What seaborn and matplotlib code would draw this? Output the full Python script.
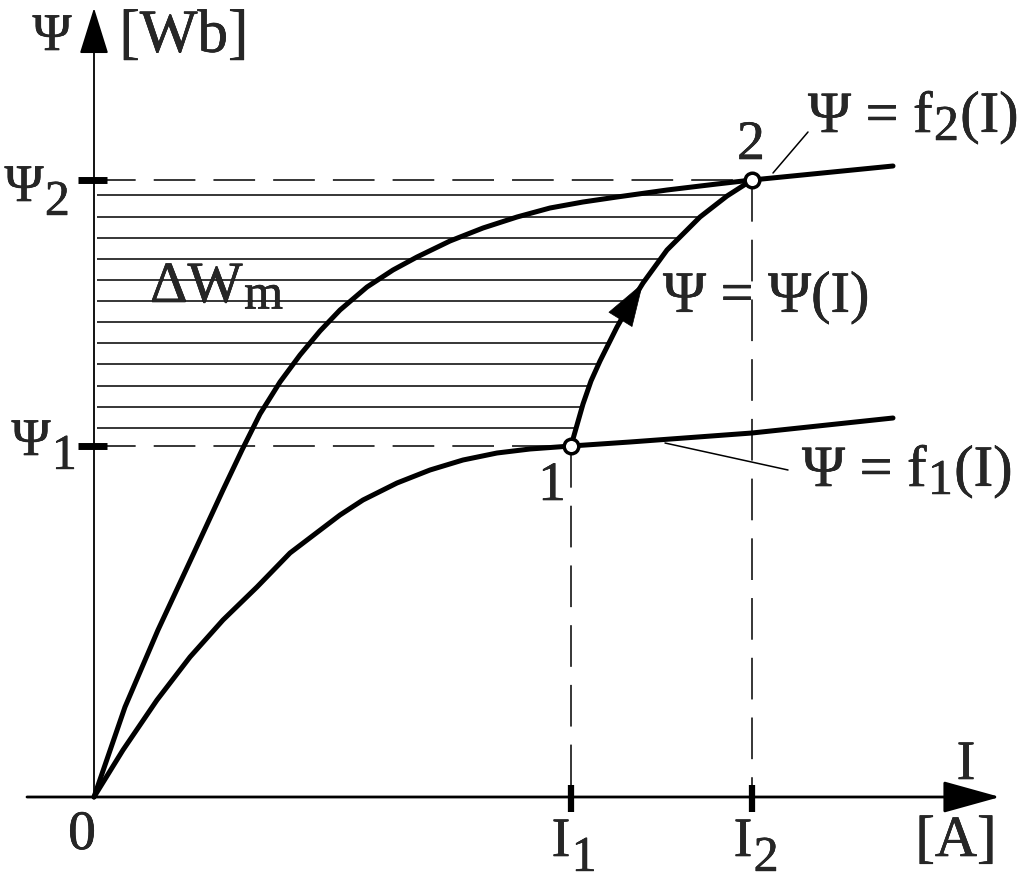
import numpy as np
import matplotlib
matplotlib.use("Agg")
import matplotlib.pyplot as plt
import matplotlib.patheffects as pe
import seaborn as sns

# magnetisation curves (x = current I, y = flux linkage Psi)
f2_x = [0, 0.31, 0.64, 0.98, 1.29, 1.48, 1.66, 1.86, 2.06, 2.26, 2.46, 2.73, 2.99, 3.23,
        3.56, 3.89, 4.23, 4.56, 4.89, 5.23, 5.73, 6.23, 6.58, 7.99]
f2_y = [0, 0.90, 1.67, 2.40, 3.07, 3.47, 3.83, 4.15, 4.42, 4.66, 4.87, 5.10, 5.27, 5.40,
        5.56, 5.69, 5.80, 5.89, 5.95, 6.00, 6.07, 6.13, 6.17, 6.31]
f1_x = [0, 0.29, 0.63, 0.96, 1.29, 1.63, 1.96, 2.46, 2.69, 3.03, 3.36, 3.69, 4.03, 4.36, 4.77, 5.36, 6.58, 7.99]
f1_y = [0, 0.47, 0.97, 1.40, 1.77, 2.10, 2.44, 2.82, 2.97, 3.14, 3.27, 3.37, 3.44, 3.48, 3.51, 3.55, 3.64, 3.79]
psi_x = [4.77, 4.83, 4.89, 4.97, 5.06, 5.23, 5.36, 5.49, 5.73, 6.06, 6.33, 6.58]
psi_y = [3.51, 3.72, 3.93, 4.16, 4.36, 4.70, 4.93, 5.14, 5.47, 5.80, 6.01, 6.17]

I1, I2 = 4.77, 6.58
psi1, psi2 = 3.51, 6.17
hatch_levels = [6.02, 5.80, 5.59, 5.38, 5.17, 4.96, 4.75, 4.54, 4.33, 4.11, 3.90, 3.69]

sns.set_style("white")
plt.rcParams["font.family"] = ["Liberation Serif", "DejaVu Serif"]
plt.rcParams["lines.scale_dashes"] = False

fig = plt.figure(figsize=(10.24, 8.89), dpi=100)
ax = fig.add_axes([0, 0, 1, 1])
ax.set_xlim(-0.94, 9.30)
ax.set_ylim(-0.92, 7.97)
ax.set_axis_off()

# hatched area Delta W_m
hatch_end = np.interp(hatch_levels, psi_y, psi_x)
ax.hlines(hatch_levels, 0.03, hatch_end, color="black", lw=1.1)

# dashed guides
dash = (0, (30, 13))
ax.plot([0, I2], [psi2, psi2], color="black", lw=1.1, linestyle=dash)
ax.plot([0, I1], [psi1, psi1], color="black", lw=1.1, linestyle=dash)
ax.plot([I1, I1], [psi1, 0], color="black", lw=1.1, linestyle=dash)
ax.plot([I2, I2], [psi2, 0], color="black", lw=1.1, linestyle=dash)

# axes with arrows
ax.annotate("", xy=(0, 7.89), xytext=(0, 0),
            arrowprops=dict(arrowstyle="-|>,head_length=0.4,head_width=0.125", mutation_scale=74,
                            lw=1.3, color="black", shrinkA=0, shrinkB=0))
ax.annotate("", xy=(9.06, 0), xytext=(-0.67, 0),
            arrowprops=dict(arrowstyle="-|>,head_length=0.45,head_width=0.125", mutation_scale=80,
                            lw=2.0, color="black", shrinkA=0, shrinkB=0))
ax.hlines([psi1, psi2], -0.16, 0.13, color="black", lw=5)
ax.vlines([I1, I2], -0.15, 0.12, color="black", lw=4.5)

# curves
for cx, cy in [(f2_x, f2_y), (f1_x, f1_y), (psi_x, psi_y)]:
    sns.lineplot(x=cx, y=cy, ax=ax, color="black", lw=3.6, sort=False, estimator=None)

ax.annotate("", xy=(psi_x[7], psi_y[7]), xytext=(psi_x[6], psi_y[6]),
            arrowprops=dict(arrowstyle="-|>,head_length=0.4,head_width=0.13", mutation_scale=75,
                            lw=0.5, color="black", shrinkA=0, shrinkB=0))

sns.scatterplot(x=[I1, I2], y=[psi1, psi2], ax=ax, s=110, color="white",
                edgecolor="black", linewidth=2.5, zorder=5)

# leader lines
ax.plot([7.14, 6.79], [6.65, 6.24], color="black", lw=1.1)
ax.plot([5.71, 6.94], [3.54, 3.27], color="black", lw=1.1)

bold = [pe.withStroke(linewidth=0.4, foreground="black")]


def txt(x, y, s, size=42, ha="center"):
    return ax.text(x, y, s, fontsize=size, ha=ha, va="center", path_effects=bold)


def sub_label(x, y, main, sub, tail="", size=42, sub_size=36, drop=-8, ha="left"):
    t = txt(x, y, main, size=size, ha=ha)
    s = ax.annotate(sub, xy=(1, 0), xycoords=t, xytext=(1, drop), textcoords="offset points",
                    fontsize=sub_size, ha="left", va="bottom", path_effects=bold)
    if tail:
        ax.annotate(tail, xy=(1, 0), xycoords=(s, t), xytext=(1, 0), textcoords="offset points",
                    fontsize=size, ha="left", va="bottom", path_effects=bold)


txt(-0.42, 7.60, "Ψ", size=38)
txt(0.90, 7.60, "[Wb]", size=44)
sub_label(-0.70, 6.09, "Ψ", "2", size=38, drop=-10, ha="center")
sub_label(-0.63, 3.55, "Ψ", "1", size=38, drop=-10, ha="center")
txt(-0.12, -0.38, "0", size=40)
sub_label(4.67, -0.45, "I", "1", size=40, drop=-10, ha="center")
sub_label(6.49, -0.45, "I", "2", size=40, drop=-10, ha="center")
txt(8.62, -0.45, "[A]", size=42)
txt(8.72, 0.32, "I", size=40)
txt(4.58, 3.11, "1", size=40)
txt(6.57, 6.52, "2", size=40)
sub_label(7.14, 6.79, "Ψ = f", "2", "(I)", drop=-5)
txt(5.69, 4.99, "Ψ = Ψ(I)", ha="left")
sub_label(7.08, 3.25, "Ψ = f", "1", "(I)", drop=-5)
sub_label(0.56, 5.09, "ΔW", "m", drop=-4)

fig.savefig("out.png", dpi=100)
